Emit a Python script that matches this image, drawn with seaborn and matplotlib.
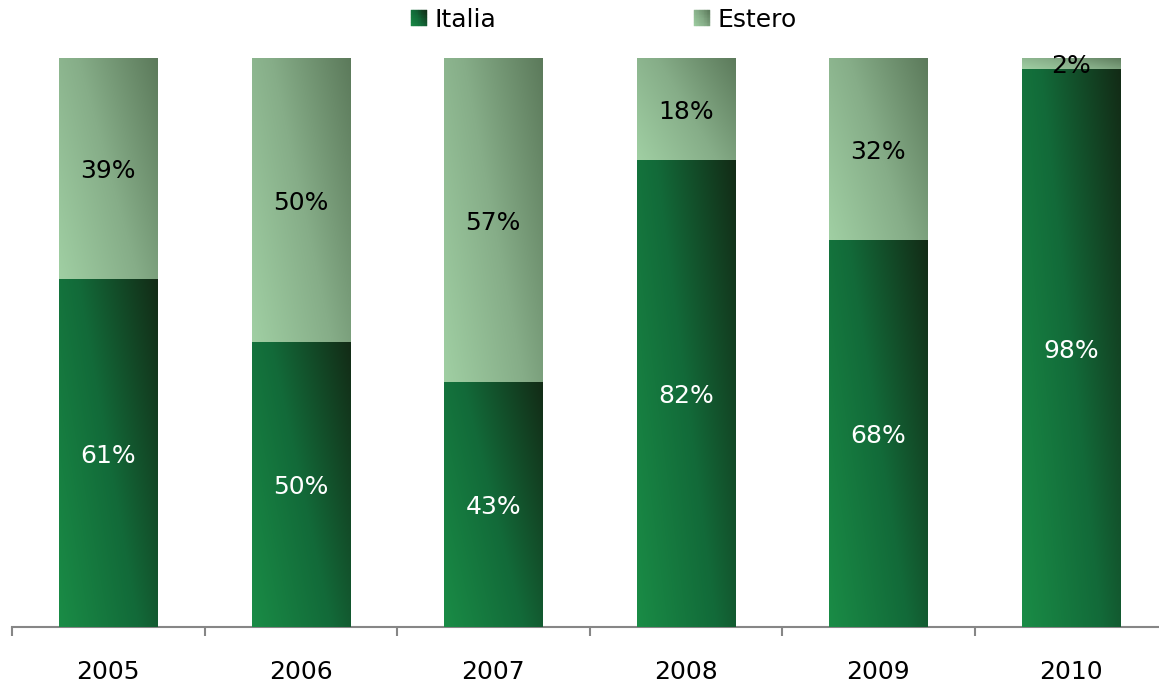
import numpy as np
import pandas as pd
import matplotlib
matplotlib.use("Agg")
import matplotlib.pyplot as plt
import seaborn as sns
from matplotlib.colors import to_rgb
from matplotlib.patches import Rectangle, Patch
from matplotlib.legend_handler import HandlerBase

# --- data -------------------------------------------------------------
years = ["2005", "2006", "2007", "2008", "2009", "2010"]
italia = [61, 50, 43, 82, 68, 98]
estero = [39, 50, 57, 18, 32, 2]

# gradient stops (light -> mid -> dark), bottom-left to top-right
ITALIA_STOPS = ["#1a8c46", "#126a39", "#132b16"]
ESTERO_STOPS = ["#a0cfa3", "#86ad88", "#5c7a5b"]


def grad_color(stops, t):
    c = [np.array(to_rgb(s)) for s in stops]
    t = np.clip(t, 0, 1)
    t = np.asarray(t)[..., None]
    lo = c[0] + (c[1] - c[0]) * np.clip(t * 2, 0, 1)
    hi = c[1] + (c[2] - c[1]) * np.clip(t * 2 - 1, 0, 1)
    return np.where(t < 0.5, lo, hi)


def grad_image(stops, n=96):
    # row 0 is the bottom of the bar (origin="lower")
    u = np.linspace(0, 1, n)[None, :]
    v = np.linspace(0, 1, n)[:, None]
    t = 0.62 * u + 0.38 * v
    return grad_color(stops, t)


class GradientSquare(HandlerBase):
    def __init__(self, stops):
        super().__init__()
        self.stops = stops

    def create_artists(self, legend, orig_handle, xdescent, ydescent,
                       width, height, fontsize, trans):
        n = 10
        s = min(width, height)
        arts = []
        for i in range(n):
            for j in range(n):
                t = 0.62 * (i + 0.5) / n + 0.38 * (j + 0.5) / n
                col = grad_color(self.stops, t)
                arts.append(Rectangle((-xdescent + i * s / n, -ydescent + j * s / n),
                                      s / n, s / n, facecolor=col, edgecolor=col,
                                      lw=0.3, transform=trans))
        return arts


df = pd.DataFrame({"anno": years, "Italia": italia, "Estero": estero})
df["Totale"] = df["Italia"] + df["Estero"]

sns.set_theme(style="white")
plt.rcParams["font.family"] = ["DejaVu Sans"]
plt.rcParams["text.color"] = "black"

W, H = 1159, 682
fig = plt.figure(figsize=(W / 100, H / 100), dpi=100)
ax = fig.add_axes([12 / W, 55 / H, 1155 / W, 569 / H])

bar_w = 0.51
sns.barplot(data=df, x="anno", y="Totale", width=bar_w, color=ESTERO_STOPS[1],
            saturation=1, ax=ax, errorbar=None)
sns.barplot(data=df, x="anno", y="Italia", width=bar_w, color=ITALIA_STOPS[1],
            saturation=1, ax=ax, errorbar=None)

tot_bars = ax.containers[0]
ita_bars = ax.containers[1]

img_est = grad_image(ESTERO_STOPS)
img_ita = grad_image(ITALIA_STOPS)

for i, (pt, pi) in enumerate(zip(tot_bars, ita_bars)):
    x0, w = pt.get_x(), pt.get_width()
    top = pt.get_height()
    mid = pi.get_height()
    pt.set_alpha(0)
    pi.set_alpha(0)
    ax.imshow(img_est, extent=(x0, x0 + w, mid, top), origin="lower",
              aspect="auto", interpolation="bilinear", zorder=2)
    ax.imshow(img_ita, extent=(x0, x0 + w, 0, mid), origin="lower",
              aspect="auto", interpolation="bilinear", zorder=3)
    ax.text(i, mid / 2, f"{italia[i]}%", ha="center", va="center_baseline",
            color="white", fontsize=18, zorder=5)
    ax.text(i, mid + estero[i] / 2, f"{estero[i]}%", ha="center",
            va="center_baseline", color="black", fontsize=18, zorder=5)

ax.set_xlim(-0.5, 5.5)
ax.set_ylim(0, 100)
ax.set_yticks([])
ax.set_xlabel("")
ax.set_ylabel("")

ax.set_xticks(range(len(years)))
ax.set_xticklabels(years)
ax.set_xticks(np.arange(-0.5, len(years), 1), minor=True)
ax.tick_params(axis="x", which="major", length=0, pad=24, labelsize=18,
               labelcolor="black")
ax.tick_params(axis="x", which="minor", length=6.5, width=1.5,
               color="#868686", direction="out", bottom=True)

sns.despine(ax=ax, left=True)
ax.spines["bottom"].set_color("#868686")
ax.spines["bottom"].set_linewidth(1.5)
ax.spines["bottom"].set_zorder(1)

handles = [Patch(label="Italia"), Patch(label="Estero")]
leg = ax.legend(handles=handles, loc="center",
                bbox_to_anchor=(604 / W, 1 - 20 / H), bbox_transform=fig.transFigure,
                ncol=2, frameon=False, fontsize=18, handlelength=0.64,
                handleheight=0.64, handletextpad=0.3, columnspacing=7.9,
                borderpad=0, borderaxespad=0, labelcolor="black",
                handler_map={handles[0]: GradientSquare(ITALIA_STOPS),
                             handles[1]: GradientSquare(ESTERO_STOPS)})

fig.savefig("out.png", dpi=100)
